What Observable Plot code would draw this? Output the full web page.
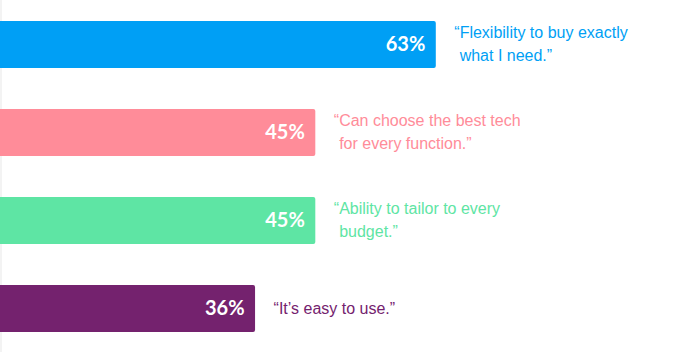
<!DOCTYPE html>
<html><head><meta charset="utf-8">
<script src="https://cdn.jsdelivr.net/npm/d3@7"></script>
<script src="https://cdn.jsdelivr.net/npm/@observablehq/plot@0.6"></script>
<style>
html,body{margin:0;padding:0;background:linear-gradient(to right,#f3f3f3 2px,#ffffff 2px);}
#chart svg{display:block;}
</style></head><body><div id="chart"></div>
<script>
const reasons = ["flexibility", "best-tech", "tailor", "easy"];
const shares = [63, 45, 45, 36];
const quotes = [
  "“Flexibility to buy exactly\nwhat I need.”",
  "“Can choose the best tech\nfor every function.”",
  "“Ability to tailor to every\nbudget.”",
  "“It’s easy to use.”"
];
const colors = ["#009ff5", "#ff8c99", "#5ee5a4", "#74226e"];

const data = reasons.map((r, i) => ({
  reason: r,
  share: shares[i],
  quote: quotes[i].replace(/\n/g, "\n\u2004")
}));

const chart = Plot.plot({
  width: 680,
  height: 352,
  marginTop: 0, marginBottom: 0, marginLeft: 0, marginRight: 0,
  style: {background: "transparent"},
  x: {domain: [-2.1, 63], range: [0, 435.8], axis: null},
  y: {domain: reasons, range: [0, 352], paddingInner: 0.466, paddingOuter: 0.233, axis: null},
  color: {domain: reasons, range: colors},
  marks: [
    Plot.barX(data, {x1: -6, x2: "share", y: "reason", fill: "reason", rx: 2, clip: true}),
    Plot.text(data, {x: "share", y: "reason", text: d => d.share + "%", dx: -11, textAnchor: "end",
      fill: "white", fontFamily: "Lato", fontWeight: 700, fontSize: 20}),
    Plot.text(data, {x: "share", y: "reason", text: "quote", dx: 18, dy: -3, textAnchor: "start",
      fill: "reason", fontFamily: "Liberation Sans", fontSize: 16, lineHeight: 1.47})
  ]
});
document.getElementById("chart").appendChild(chart);
</script></body></html>
